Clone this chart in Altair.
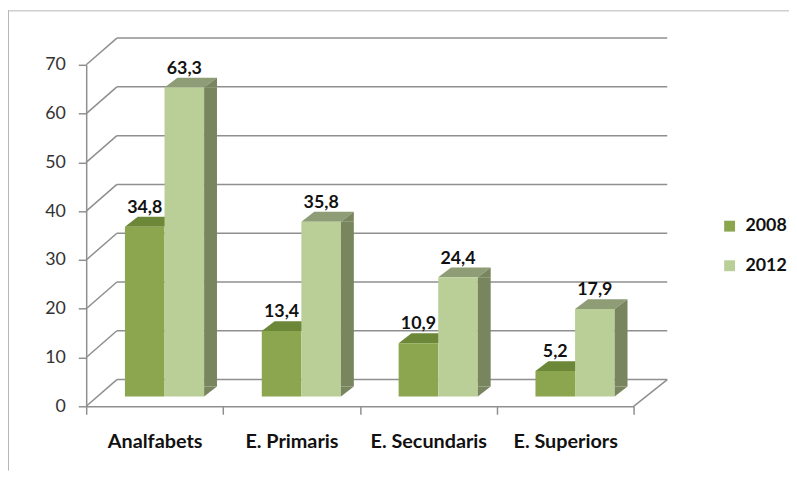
import altair as alt
import pandas as pd

categories = ["Analfabets", "E. Primaris", "E. Secundaris", "E. Superiors"]
years = ["2008", "2012"]
values_2008 = [34.8, 13.4, 10.9, 5.2]
values_2012 = [63.3, 35.8, 24.4, 17.9]
y_ticks = [0, 10, 20, 30, 40, 50, 60, 70]

rows = []
for c, a, b in zip(categories, values_2008, values_2012):
    rows.append({"cat": c, "year": "2008", "v": a})
    rows.append({"cat": c, "year": "2012", "v": b})
df = pd.DataFrame(rows)
ticks_df = pd.DataFrame({"v": y_ticks})
zero_df = pd.DataFrame({"v": [0]})

W, H = 553, 345
FONT = "Lato"
GRID = "#8f8f8f"
DX, DY = 31, -27          # back wall offset
BY = -10                  # bar plane offset

front = {"2008": "#8BA64F", "2012": "#BACF98"}
topc = {"2008": "#6B8737", "2012": "#8E9D75"}
sidec = "#79855E"
xoff = {"2008": -10, "2012": 30}
cap_path = {
    "2008": "M -30 0 L 10 0 L 23 -10 L -17 -10 Z",
    "2012": "M 10 0 L 50 0 L 63 -10 L 23 -10 Z",
}
side_top_path = "M 50 0 L 63 -10 L 63 0 Z"
side_bot_path = "M 50 0 L 50 -10 L 63 -10 Z"

xscale = alt.Scale(domain=categories, paddingInner=0, paddingOuter=0)
yscale = alt.Scale(domain=[0, 70], nice=False)

x_axis = alt.Axis(title=None, tickBand="extent", labelFont=FONT, labelFontSize=20,
                  labelFontWeight="bold", labelColor="#111", domainColor=GRID,
                  domainWidth=1.5, tickColor=GRID, tickWidth=1.5, tickSize=8,
                  labelPadding=18, labelAngle=0)
y_axis = alt.Axis(title=None, values=y_ticks, grid=False, labelFont=FONT,
                  labelFontSize=18, labelColor="#333", domainColor=GRID,
                  domainWidth=1.5, tickColor=GRID, tickWidth=1.5, tickSize=8,
                  labelPadding=13)


def X():
    return alt.X("cat:N", scale=xscale, sort=categories, axis=x_axis)


def Y():
    return alt.Y("v:Q", scale=yscale, axis=y_axis)


color_enc = alt.Color("year:N", scale=alt.Scale(domain=years, range=[front[y] for y in years]),
                      legend=alt.Legend(title=None, orient="none", legendX=641, legendY=154,
                                        symbolType="square", symbolSize=121, symbolStrokeWidth=0,
                                        labelFont=FONT, labelFontSize=18, labelFontWeight="bold",
                                        labelColor="#111", rowPadding=22, labelOffset=7, padding=0))

layers = []

# front faces (kept aside so that they can be layered in order)
bar_layers = []
for yr in years:
    d = df[df.year == yr]
    bar_layers.append(alt.Chart(d).mark_bar(width=40, xOffset=xoff[yr], yOffset=BY, y2Offset=BY).encode(
        x=X(), y=Y(), y2=alt.datum(0), color=color_enc))

# outer border (top and left)
layers.append(alt.Chart(zero_df).mark_rule(color="#b5b5b5", strokeWidth=1).encode(
    x=alt.value(-78.5), y=alt.value(-55), y2=alt.value(H + 65)))
layers.append(alt.Chart(zero_df).mark_rule(color="#b5b5b5", strokeWidth=1).encode(
    x=alt.value(-79), x2=alt.value(W + 157), y=alt.value(-54.5)))

# back wall gridlines
layers.append(alt.Chart(ticks_df).mark_rule(color=GRID, strokeWidth=1.5, yOffset=DY).encode(
    y=Y(), x=alt.value(DX), x2=alt.value(W + DX + 3)))
# left wall slanted lines
layers.append(alt.Chart(ticks_df).mark_rule(color=GRID, strokeWidth=1.5, y2Offset=DY).encode(
    y=Y(), y2=alt.Y2("v"), x=alt.value(0), x2=alt.value(DX)))
# floor right edge
layers.append(alt.Chart(zero_df).mark_rule(color=GRID, strokeWidth=1.5, y2Offset=DY).encode(
    y=Y(), y2=alt.Y2("v"), x=alt.value(W), x2=alt.value(W + DX + 3)))

for i, yr in enumerate(years):
    d = df[df.year == yr]
    # top cap
    layers.append(alt.Chart(d).mark_point(shape=cap_path[yr], size=4, filled=True, opacity=1,
                                          color=topc[yr], strokeWidth=0, yOffset=BY).encode(
        x=X(), y=Y()))
    layers.append(bar_layers[i])

d12 = df[df.year == "2012"]
# side face of 2012 bars
layers.append(alt.Chart(d12).mark_bar(width=13, xOffset=56.5, color=sidec, yOffset=BY,
                                      y2Offset=BY * 2).encode(
    x=X(), y=Y(), y2=alt.datum(0)))
layers.append(alt.Chart(d12).mark_point(shape=side_top_path, size=4, filled=True, opacity=1,
                                        color=sidec, strokeWidth=0, yOffset=BY).encode(
    x=X(), y=Y()))
layers.append(alt.Chart(d12).mark_point(shape=side_bot_path, size=4, filled=True, opacity=1,
                                        color=sidec, strokeWidth=0, yOffset=BY).encode(
    x=X(), y=alt.datum(0)))

# value labels
for yr in years:
    d = df[df.year == yr]
    layers.append(alt.Chart(d).transform_calculate(
        lab="replace(format(datum.v, '.1f'), '.', ',')"
    ).mark_text(font=FONT, fontSize=18, fontWeight="bold", color="#111", baseline="alphabetic",
                dy=-14, yOffset=BY, xOffset=xoff[yr]).encode(
        x=X(), y=Y(), text=alt.Text("lab:N")))

chart = alt.layer(*layers).properties(
    width=W, height=H,
    autosize=alt.AutoSizeParams(type="none"),
    padding={"left": 79, "top": 55, "right": 157, "bottom": 65},
).configure_view(stroke=None)

chart.save("out.html", embed_options={"renderer": "svg", "actions": False})
